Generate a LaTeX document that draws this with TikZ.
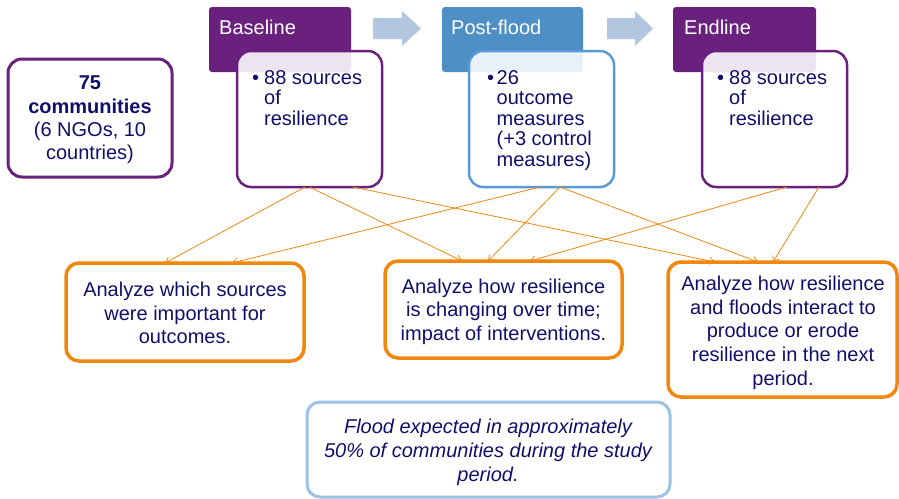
\documentclass[tikz,border=0pt]{standalone}
\usepackage{fontspec}
\setmainfont{Liberation Sans}
\usetikzlibrary{arrows.meta,calc}
\definecolor{purp}{HTML}{6A217E}
\definecolor{navy}{HTML}{10106B}
\definecolor{pfhead}{HTML}{4E8FC6}
\definecolor{pfline}{HTML}{5B9BD5}
\definecolor{stepar}{HTML}{B3C6E0}
\definecolor{orng}{HTML}{F0870F}
\definecolor{flline}{HTML}{9CC2E5}
\tikzset{
  boxbase/.style={rectangle, inner sep=0pt, outer sep=0pt},
  commbox/.style={boxbase, draw=purp, line width=3pt, rounded corners=14pt, fill=white},
  headbox/.style={boxbase, rounded corners=3pt},
  contbox/.style={boxbase, line width=2.5pt, rounded corners=14pt, fill=white, fill opacity=0.88, draw opacity=1},
  outbox/.style={boxbase, draw=orng, line width=3.5pt, rounded corners=13pt, fill=white},
  floodbox/.style={boxbase, draw=flline, line width=3pt, rounded corners=13pt, fill=white},
  headtxt/.style={inner sep=0pt, anchor=west, text=white, font=\fontsize{20}{24}\selectfont},
  bultxt/.style={inner sep=0pt, anchor=base west, text=navy, font=\fontsize{20}{24}\selectfont},
  conttxt/.style={inner sep=0pt, anchor=north west, align=left, text=navy, font=\fontsize{20}{20.5}\selectfont},
  outtxt/.style={inner sep=0pt, align=center, text=navy, font=\fontsize{20}{23.5}\selectfont},
  link/.style={draw=orng, line width=0.8pt, -{Straight Barb[length=5pt,width=7pt]}},
  steparrow/.style={fill=stepar, draw=none}
}
\begin{document}
\begin{tikzpicture}[x=1pt,y=-1pt]
\useasboundingbox (0,0) rectangle (899,498);

% community box
\node[commbox, minimum width=164pt, minimum height=118pt] (comm) at (90,118) {};
\node[outtxt, font=\fontsize{20}{23.3}\selectfont] (commtxt) at (90,120) {\textbf{75}\\\textbf{communities}\\(6 NGOs, 10\\countries)};

% step arrows
\path[steparrow] (373,18) -- (402,18) -- (402,11) -- (421,28.5) -- (402,46) -- (402,39) -- (373,39) -- cycle;
\path[steparrow] (607,18) -- (635,18) -- (635,11) -- (653,28.5) -- (635,46) -- (635,39) -- (607,39) -- cycle;

% headers
\node[headbox, fill=purp, minimum width=142pt, minimum height=65pt] (bh) at (280,39.5) {};
\node[headbox, fill=pfhead, minimum width=141pt, minimum height=65pt] (ph) at (512.5,39.5) {};
\node[headbox, fill=purp, minimum width=143pt, minimum height=65pt] (eh) at (744.5,39.5) {};
\node[headtxt] (bht) at (219,27.7) {Baseline};
\node[headtxt] (pht) at (451,27.7) {Post-flood};
\node[headtxt] (eht) at (684,27.7) {Endline};

% content boxes
\node[contbox, draw=purp, minimum width=145pt, minimum height=136pt] (bc) at (309.5,119) {};
\node[contbox, draw=pfline, minimum width=145pt, minimum height=136pt] (pc) at (541.5,119) {};
\node[contbox, draw=purp, minimum width=145pt, minimum height=136pt] (ec) at (774.5,119) {};

\node[bultxt] (bcb) at (252,84.2) {•};
\node[conttxt] (bct) at (264,70) {88 sources\\of\\resilience};
\node[bultxt] (pcb) at (487,84.2) {•};
\node[conttxt] (pct) at (496.5,70) {26\\outcome\\measures\\(+3 control\\measures)};
\node[bultxt] (ecb) at (717,84.2) {•};
\node[conttxt] (ect) at (729,70) {88 sources\\of\\resilience};

% outcome boxes
\node[outbox, minimum width=238pt, minimum height=98pt] (o1) at (185,312) {};
\node[outbox, minimum width=237pt, minimum height=97pt] (o2) at (503.5,309.5) {};
\node[outbox, minimum width=229pt, minimum height=135pt] (o3) at (782.5,329.5) {};
\node[outtxt] (o1t) at (185,313.2) {Analyze which sources\\were important for\\outcomes.};
\node[outtxt] (o2t) at (503.5,311.8) {Analyze how resilience\\is changing over time;\\impact of interventions.};
\node[outtxt, font=\fontsize{20}{23.75}\selectfont] (o3t) at (783,332.8) {Analyze how resilience\\and floods interact to\\produce or erode\\resilience in the next\\period.};

% flood box
\node[floodbox, minimum width=363pt, minimum height=95pt] (fl) at (488.5,449.5) {};
\node[outtxt, font=\fontsize{20}{24}\selectfont\itshape] (flt) at (488,452.8) {Flood expected in approximately\\50\% of communities during the study\\period.};

% links
\draw[link] ([xshift=-4.5pt]bc.south) -- ([xshift=-20pt]o1.north);
\draw[link] (bc.south) -- ([xshift=-41.5pt]o2.north);
\draw[link] ([xshift=43.5pt]bc.south) -- ([xshift=-67.5pt]o3.north);
\draw[link] ([xshift=-1.5pt]pc.south) -- ([xshift=47pt]o1.north);
\draw[link] ([xshift=18.5pt]pc.south) -- ([xshift=-15.5pt]o2.north);
\draw[link] ([xshift=18.5pt]pc.south) -- ([xshift=-24.5pt]o3.north);
\draw[link] ([xshift=12.5pt]ec.south) -- ([xshift=26.5pt]o2.north);
\draw[link] ([xshift=44.5pt]ec.south) -- ([xshift=-9.5pt]o3.north);
\end{tikzpicture}
\end{document}
